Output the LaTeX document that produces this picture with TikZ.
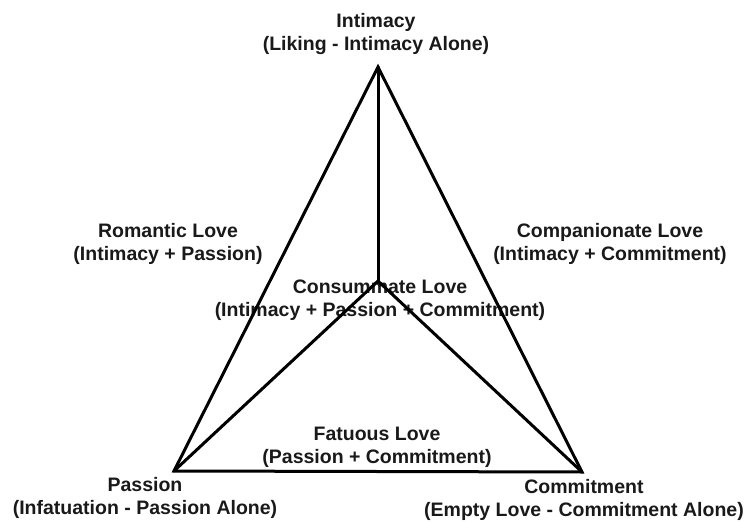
\documentclass[tikz,border=0pt]{standalone}
\usepackage{fontspec}
\setmainfont{Liberation Sans}
\begin{document}
\begin{tikzpicture}[x=1pt,y=-1pt,
  lbl/.style={inner sep=0pt,align=center,font=\bfseries\fontsize{19.5}{23}\selectfont,text=black!90},
  edge/.style={line width=3pt,line join=miter,line cap=round}]
\useasboundingbox (0,0) rectangle (748,522);
\coordinate (I) at (378,67);
\coordinate (P) at (174,471);
\coordinate (C) at (582,472);
\coordinate (M) at (378,281);
\node[lbl] (tI) at (376,34.5) {Intimacy\\(Liking - Intimacy Alone)};
\node[lbl] (tP) at (145,497.5) {Passion\\(Infatuation - Passion Alone)};
\node[lbl] (tC) at (584,500) {Commitment\\(Empty Love - Commitment Alone)};
\node[lbl] (tR) at (168,243.5) {Romantic Love\\(Intimacy + Passion)};
\node[lbl] (tCo) at (610,244) {Companionate Love\\(Intimacy + Commitment)};
\node[lbl] (tM) at (380,300) {Consummate Love\\(Intimacy + Passion + Commitment)};
\node[lbl] (tF) at (377,447) {Fatuous Love\\(Passion + Commitment)};
\draw[edge] (I) -- (P) -- (C) -- cycle;
\draw[edge] (M) -- (I);
\draw[edge] (M) -- (P);
\draw[edge] (M) -- (C);
\end{tikzpicture}
\end{document}
